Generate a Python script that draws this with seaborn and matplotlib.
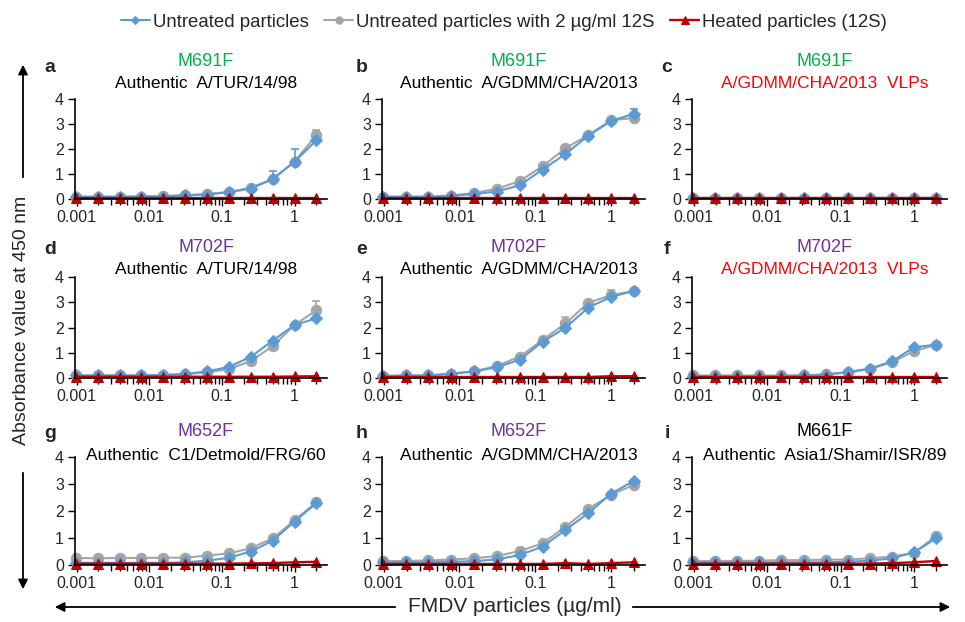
import matplotlib
matplotlib.use("Agg")
import matplotlib.pyplot as plt
from matplotlib.patches import FancyArrowPatch
import seaborn as sns

# FMDV particle concentration (ug/ml), two-fold dilutions
conc = [0.000977, 0.00195, 0.0039, 0.0078, 0.0156, 0.03125,
        0.0625, 0.125, 0.25, 0.5, 1.0, 2.0]

panels = ["a", "b", "c", "d", "e", "f", "g", "h", "i"]
mutants = ["M691F", "M691F", "M691F", "M702F", "M702F", "M702F",
           "M652F", "M652F", "M661F"]
mutant_colors = ["#00B050", "#00B050", "#00B050", "#7030A0", "#7030A0",
                 "#7030A0", "#7030A0", "#7030A0", "black"]
strains = ["Authentic  A/TUR/14/98", "Authentic  A/GDMM/CHA/2013",
           "A/GDMM/CHA/2013  VLPs", "Authentic  A/TUR/14/98",
           "Authentic  A/GDMM/CHA/2013", "A/GDMM/CHA/2013  VLPs",
           "Authentic  C1/Detmold/FRG/60", "Authentic  A/GDMM/CHA/2013",
           "Authentic  Asia1/Shamir/ISR/89"]
strain_colors = ["black", "black", "red", "black", "black", "red",
                 "black", "black", "black"]

untreated = {
    "a": [0.08, 0.08, 0.08, 0.10, 0.10, 0.15, 0.18, 0.27, 0.42, 0.79, 1.49, 2.35],
    "b": [0.08, 0.08, 0.08, 0.12, 0.20, 0.30, 0.55, 1.18, 1.80, 2.53, 3.12, 3.41],
    "c": [0.06, 0.06, 0.06, 0.06, 0.06, 0.06, 0.06, 0.06, 0.06, 0.06, 0.06, 0.06],
    "d": [0.10, 0.10, 0.10, 0.10, 0.12, 0.16, 0.26, 0.44, 0.84, 1.48, 2.10, 2.36],
    "e": [0.08, 0.10, 0.10, 0.17, 0.26, 0.43, 0.72, 1.44, 1.99, 2.79, 3.21, 3.45],
    "f": [0.08, 0.08, 0.08, 0.08, 0.08, 0.10, 0.13, 0.24, 0.37, 0.66, 1.22, 1.32],
    "g": [0.08, 0.08, 0.08, 0.08, 0.08, 0.10, 0.16, 0.27, 0.50, 0.90, 1.61, 2.29],
    "h": [0.10, 0.10, 0.10, 0.12, 0.14, 0.21, 0.37, 0.68, 1.30, 1.92, 2.64, 3.12],
    "i": [0.10, 0.10, 0.10, 0.10, 0.10, 0.10, 0.10, 0.12, 0.16, 0.25, 0.47, 0.99],
}
with_12s = {
    "a": [0.10, 0.10, 0.10, 0.10, 0.12, 0.15, 0.20, 0.28, 0.45, 0.80, 1.50, 2.55],
    "b": [0.10, 0.10, 0.10, 0.14, 0.24, 0.41, 0.72, 1.31, 2.03, 2.56, 3.15, 3.24],
    "c": [0.06, 0.06, 0.06, 0.06, 0.06, 0.06, 0.06, 0.06, 0.06, 0.06, 0.06, 0.06],
    "d": [0.10, 0.10, 0.10, 0.10, 0.12, 0.15, 0.22, 0.35, 0.67, 1.26, 2.10, 2.68],
    "e": [0.08, 0.10, 0.10, 0.17, 0.26, 0.48, 0.85, 1.51, 2.16, 2.98, 3.28, 3.45],
    "f": [0.10, 0.10, 0.10, 0.10, 0.10, 0.10, 0.15, 0.22, 0.35, 0.63, 1.06, 1.32],
    "g": [0.26, 0.25, 0.26, 0.26, 0.27, 0.27, 0.35, 0.43, 0.62, 0.99, 1.65, 2.33],
    "h": [0.14, 0.15, 0.17, 0.20, 0.25, 0.33, 0.52, 0.80, 1.42, 2.08, 2.60, 2.97],
    "i": [0.14, 0.15, 0.15, 0.16, 0.18, 0.18, 0.20, 0.20, 0.25, 0.31, 0.45, 1.08],
}
heated = {
    "a": [0.05, 0.05, 0.05, 0.05, 0.05, 0.05, 0.05, 0.05, 0.05, 0.05, 0.05, 0.05],
    "b": [0.03, 0.03, 0.03, 0.03, 0.03, 0.03, 0.03, 0.03, 0.03, 0.03, 0.03, 0.03],
    "c": [0.05, 0.05, 0.05, 0.05, 0.05, 0.05, 0.05, 0.05, 0.05, 0.05, 0.05, 0.05],
    "d": [0.05, 0.05, 0.05, 0.05, 0.05, 0.05, 0.05, 0.05, 0.05, 0.05, 0.06, 0.07],
    "e": [0.04, 0.04, 0.04, 0.04, 0.04, 0.04, 0.04, 0.04, 0.04, 0.04, 0.07, 0.07],
    "f": [0.04, 0.04, 0.04, 0.04, 0.04, 0.04, 0.04, 0.04, 0.04, 0.04, 0.04, 0.04],
    "g": [0.05, 0.05, 0.05, 0.05, 0.05, 0.05, 0.05, 0.05, 0.06, 0.07, 0.10, 0.12],
    "h": [0.04, 0.04, 0.04, 0.04, 0.04, 0.04, 0.04, 0.04, 0.07, 0.04, 0.07, 0.10],
    "i": [0.05, 0.05, 0.05, 0.05, 0.05, 0.05, 0.05, 0.05, 0.05, 0.07, 0.10, 0.15],
}

# upper error bars (SD) where they stick out of the markers
err_untreated = {"a": {1.0: 0.50, 0.5: 0.33}, "b": {2.0: 0.20}}
err_with_12s = {"a": {2.0: 0.20}, "d": {2.0: 0.35}, "e": {0.25: 0.27, 1.0: 0.22}}

series_labels = ["Untreated particles",
                 "Untreated particles with 2 \u00b5g/ml 12S",
                 "Heated particles (12S)"]

BLUE, GREY, RED = "#5B9BD5", "#A5A5A5", "#C00000"

sns.set_style("ticks")
plt.rcParams["font.family"] = ["Liberation Sans", "DejaVu Sans"]

W, H = 965, 622
fig = plt.figure(figsize=(W / 100, H / 100), dpi=100)

# axes boxes in pixels: (left, right) per column, (top, bottom) per row
cols = [(75, 327), (382, 645), (692, 947)]
rows = [(99, 199), (277, 378), (457, 565)]
title_y = [(62, 83), (248, 270), (432, 455)]
letter_x = [50, 362, 667]
letter_y = [67, 249, 433]


def fx(px):
    return px / W


def fy(py):
    return 1 - py / H


handles = None
for k, p in enumerate(panels):
    r, c = divmod(k, 3)
    left, right = cols[c]
    top, bottom = rows[r]
    ax = fig.add_axes([fx(left), fy(bottom), fx(right - left), (bottom - top) / H])

    # errorbars first so markers sit on top
    for errs, vals, col in [(err_with_12s.get(p, {}), with_12s[p], GREY),
                            (err_untreated.get(p, {}), untreated[p], BLUE)]:
        for x, e in errs.items():
            yv = vals[conc.index(x)]
            ax.errorbar([x], [yv], yerr=[[0], [e]], fmt="none", ecolor=col,
                        elinewidth=1.2, capsize=3, capthick=1.2, clip_on=False)

    sns.lineplot(x=conc, y=with_12s[p], ax=ax, color=GREY, marker="o",
                 markersize=7.5, markeredgecolor=GREY, linewidth=1.5,
                 label=series_labels[1], clip_on=False)
    sns.lineplot(x=conc, y=untreated[p], ax=ax, color=BLUE, marker="D",
                 markersize=6.5, markeredgecolor=BLUE, linewidth=1.5,
                 label=series_labels[0], clip_on=False)
    sns.lineplot(x=conc, y=heated[p], ax=ax, color=RED, marker="^",
                 markersize=7.5, markeredgecolor=RED, linewidth=1.7,
                 label=series_labels[2], clip_on=False)

    if handles is None:
        h, l = ax.get_legend_handles_labels()
        handles = [h[l.index(s)] for s in series_labels]
    ax.get_legend().remove()

    ax.set_xscale("log")
    ax.set_xlim(0.00095, 2.8)
    ax.set_ylim(0, 4)
    ax.set_xticks([0.001, 0.01, 0.1, 1])
    ax.set_xticklabels(["0.001", "0.01", "0.1", "1"])
    ax.set_yticks([0, 1, 2, 3, 4])
    ax.set_xlabel("")
    ax.set_ylabel("")
    ax.tick_params(axis="both", which="major", labelsize=11.5, length=5,
                   width=1, direction="out", color="black", pad=3)
    ax.tick_params(axis="x", which="minor", length=4, width=1,
                   direction="out", color="black")
    sns.despine(ax=ax)
    for s in ["left", "bottom"]:
        ax.spines[s].set_color("black")
        ax.spines[s].set_linewidth(1.2)

    cx = fx((left + right) / 2 + 5)
    fig.text(cx, fy(title_y[r][0]), mutants[k], color=mutant_colors[k],
             fontsize=13, ha="center", va="center")
    fig.text(cx, fy(title_y[r][1]), strains[k], color=strain_colors[k],
             fontsize=12.5, ha="center", va="center")
    fig.text(fx(letter_x[c]), fy(letter_y[r]), p, fontsize=14,
             fontweight="bold", ha="center", va="center")

fig.legend(handles, series_labels, loc="center", bbox_to_anchor=(fx(504), fy(22)),
           ncol=3, frameon=False, fontsize=13.4, handlelength=1.55,
           handletextpad=0.16, columnspacing=0.85, markerscale=0.7)

# y-axis label with arrows
fig.text(fx(22), fy(320), "Absorbance value at 450 nm", rotation=90,
         fontsize=14, ha="center", va="center")
arrow = dict(arrowstyle="-|>", color="black", lw=1.3, mutation_scale=14)
fig.add_artist(FancyArrowPatch((fx(23), fy(180)), (fx(23), fy(62)),
                               transform=fig.transFigure, **arrow))
fig.add_artist(FancyArrowPatch((fx(23), fy(470)), (fx(23), fy(592)),
                               transform=fig.transFigure, **arrow))

# x-axis label with arrows
fig.text(fx(515), fy(607), "FMDV particles (\u00b5g/ml)", fontsize=15,
         ha="center", va="center")
fig.add_artist(FancyArrowPatch((fx(398), fy(607)), (fx(52), fy(607)),
                               transform=fig.transFigure, **arrow))
fig.add_artist(FancyArrowPatch((fx(630), fy(607)), (fx(953), fy(607)),
                               transform=fig.transFigure, **arrow))

fig.savefig("out.png", dpi=100)
